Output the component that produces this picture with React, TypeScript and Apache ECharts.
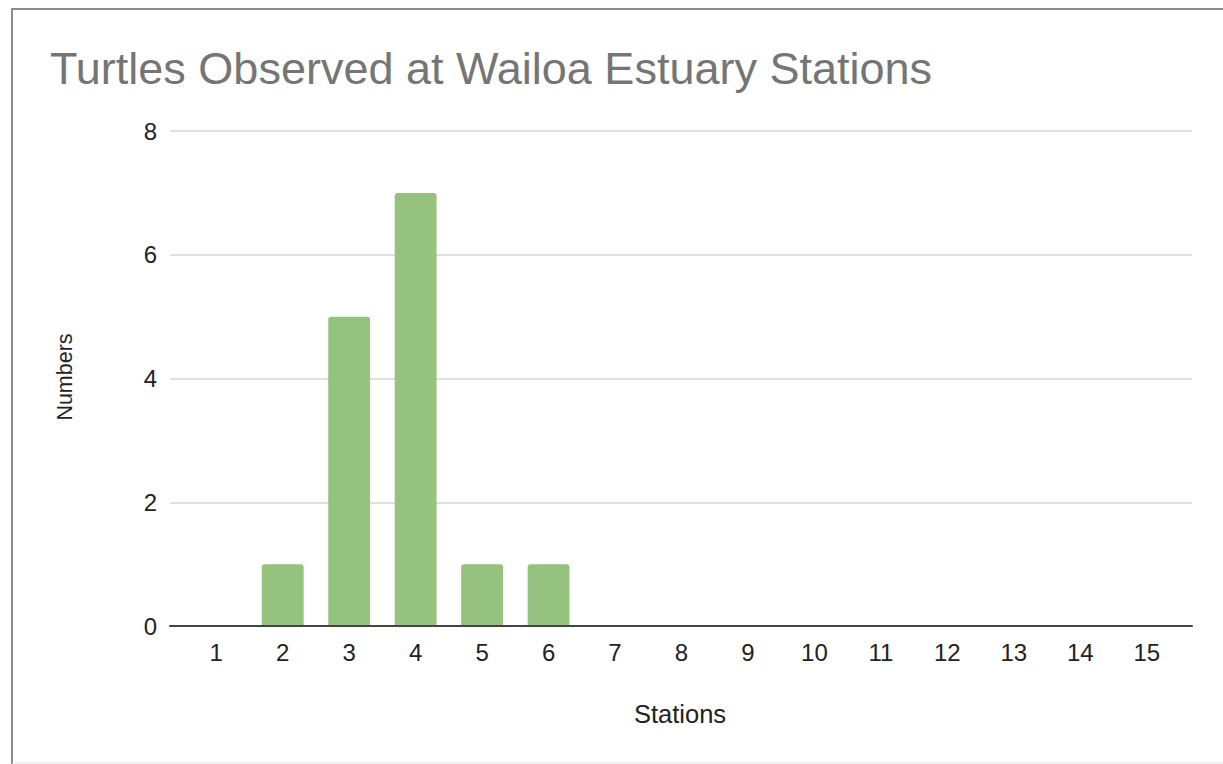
import React, { useEffect, useRef } from "react";
import * as echarts from "echarts";

const stations = ["1", "2", "3", "4", "5", "6", "7", "8", "9", "10", "11", "12", "13", "14", "15"];
const turtleCounts = [0, 1, 5, 7, 1, 1, 0, 0, 0, 0, 0, 0, 0, 0, 0];
const titleText = "Turtles Observed at Wailoa Estuary Stations";
const xName = "Stations";
const yName = "Numbers";

const FONT = '"Liberation Sans", Arial, Helvetica, sans-serif';

export default function App() {
  const ref = useRef<HTMLDivElement>(null);
  useEffect(() => {
    if (!ref.current) return;
    const chart = echarts.init(ref.current, null, { renderer: "svg" });
    chart.setOption({
      animation: false,
      backgroundColor: "#ffffff",
      textStyle: { fontFamily: FONT },
      grid: [
        { left: 170, right: 31, top: 131, bottom: 138 },
        { left: 183, right: 43, top: 131, bottom: 138 },
      ],
      xAxis: [
        {
          gridIndex: 0,
          type: "value",
          min: 0,
          max: 1,
          z: 5,
          axisLine: { show: true, lineStyle: { color: "#444444", width: 2 } },
          axisTick: { show: false },
          axisLabel: { show: false },
          splitLine: { show: false },
        },
        {
          gridIndex: 1,
          type: "category",
          data: stations,
          axisLine: { show: false },
          axisTick: { show: false },
          axisLabel: { color: "#222222", fontSize: 24, fontFamily: FONT, margin: 14 },
        },
      ],
      yAxis: [
        {
          gridIndex: 0,
          type: "value",
          min: 0,
          max: 8,
          interval: 2,
          axisLine: { show: false },
          axisTick: { show: false },
          axisLabel: { color: "#222222", fontSize: 24, fontFamily: FONT, margin: 13 },
          splitLine: { lineStyle: { color: "#d6d6d6", width: 1.5 } },
        },
        {
          gridIndex: 1,
          type: "value",
          min: 0,
          max: 8,
          show: false,
          splitLine: { show: false },
        },
      ],
      series: [
        {
          type: "bar",
          xAxisIndex: 1,
          yAxisIndex: 1,
          data: turtleCounts,
          barWidth: "63%",
          itemStyle: { color: "#95c27e", borderRadius: [3, 3, 0, 0] },
        },
      ],
      graphic: [
        {
          type: "line",
          shape: { x1: 12, y1: 9, x2: 1223, y2: 9 },
          style: { stroke: "#8c8c8c", lineWidth: 2 },
        },
        {
          type: "line",
          shape: { x1: 12, y1: 8, x2: 12, y2: 764 },
          style: { stroke: "#8c8c8c", lineWidth: 2 },
        },
        {
          type: "line",
          shape: { x1: 12, y1: 763, x2: 1223, y2: 763 },
          style: { stroke: "#e6e6e6", lineWidth: 1 },
        },
        {
          type: "text",
          x: 50,
          y: 68,
          style: {
            text: titleText,
            fill: "#757575",
            fontSize: 45,
            fontFamily: FONT,
            align: "left",
            verticalAlign: "middle",
          },
        },
        {
          type: "text",
          x: 65,
          y: 377,
          rotation: Math.PI / 2,
          style: {
            text: yName,
            fill: "#222222",
            fontSize: 21.5,
            fontFamily: FONT,
            align: "center",
            verticalAlign: "middle",
          },
        },
        {
          type: "text",
          x: 680,
          y: 714,
          style: {
            text: xName,
            fill: "#222222",
            fontSize: 25.5,
            fontFamily: FONT,
            align: "center",
            verticalAlign: "middle",
          },
        },
      ],
    });
    return () => chart.dispose();
  }, []);
  return (
    <div
      ref={ref}
      style={{ position: "fixed", left: 0, top: 0, width: 1223, height: 764 }}
    />
  );
}
